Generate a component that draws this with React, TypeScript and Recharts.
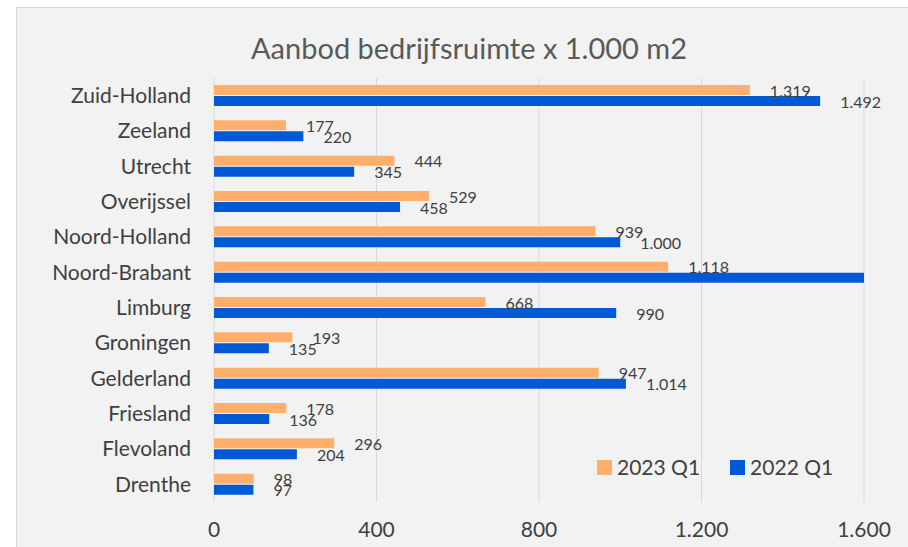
import React from 'react'
import {
  BarChart,
  Bar,
  XAxis,
  YAxis,
  CartesianGrid,
  LabelList,
} from 'recharts'

const PROVINCES = [
  'Zuid-Holland',
  'Zeeland',
  'Utrecht',
  'Overijssel',
  'Noord-Holland',
  'Noord-Brabant',
  'Limburg',
  'Groningen',
  'Gelderland',
  'Friesland',
  'Flevoland',
  'Drenthe',
]

const Q1_2023 = [1319, 177, 444, 529, 939, 1118, 668, 193, 947, 178, 296, 98]
const Q1_2022 = [1492, 220, 345, 458, 1000, 1600, 990, 135, 1014, 136, 204, 97]

const X_TICKS = [0, 400, 800, 1200, 1600]

const SERIES = [
  { key: 'q2023', label: '2023 Q1', color: '#ffae6c' },
  { key: 'q2022', label: '2022 Q1', color: '#005ad5' },
]

const TEXT = '#404040'
const FONT = 'Lato, "Open Sans", sans-serif'

// Dutch thousands separator: 1492 -> 1.492
const nl = (v: number) => String(v).replace(/\B(?=(\d{3})+(?!\d))/g, '.')

const chartData = PROVINCES.map((name, i) => ({
  name,
  q2023: Q1_2023[i],
  q2022: Q1_2022[i],
}))

const maxX = X_TICKS[X_TICKS.length - 1]

// labels sit 20px past the bar end, centred on the bar; ones that run off the axis are dropped
const renderLabel = (props: any) => {
  const { x, y, width, height, value } = props
  if (value >= maxX) return null
  return (
    <text
      x={x + width + 20}
      y={y + height / 2}
      dominantBaseline="central"
      fontSize={16}
      fontFamily={FONT}
      fill={TEXT}
    >
      {nl(value)}
    </text>
  )
}

export default function App() {
  return (
    <div
      style={{
        position: 'absolute',
        left: 0,
        top: 0,
        width: 908,
        height: 547,
        background: '#ffffff',
        overflow: 'hidden',
      }}
    >
      {/* chart frame */}
      <div
        style={{
          position: 'absolute',
          left: 16,
          top: 7,
          width: 920,
          height: 580,
          background: '#f2f2f2',
          border: '1px solid #d9d9d9',
        }}
      />
      <div
        style={{
          position: 'absolute',
          left: 0,
          top: 30,
          width: 938,
          textAlign: 'center',
          fontFamily: FONT,
          fontSize: 29,
          color: '#595959',
          lineHeight: '36px',
        }}
      >
        Aanbod bedrijfsruimte x 1.000 m2
      </div>
      <div style={{ position: 'absolute', left: 0, top: 0 }}>
        <BarChart
          width={908}
          height={547}
          data={chartData}
          layout="vertical"
          margin={{ top: 78, right: 44, bottom: 0, left: 0 }}
          barSize={10}
          barGap={1}
        >
          <CartesianGrid horizontal={false} stroke="#d9d9d9" strokeWidth={1} />
          <XAxis
            type="number"
            domain={[0, maxX]}
            ticks={X_TICKS}
            allowDataOverflow
            tickFormatter={nl}
            axisLine={false}
            tickLine={false}
            tickMargin={14}
            height={45}
            tick={{ fontSize: 21, fill: TEXT, fontFamily: FONT }}
          />
          <YAxis
            type="category"
            dataKey="name"
            width={214}
            axisLine={false}
            tickLine={false}
            tickMargin={17}
            interval={0}
            tick={{ fontSize: 21, fill: TEXT, fontFamily: FONT }}
          />
          {SERIES.map((s) => (
            <Bar
              key={s.key}
              dataKey={s.key}
              name={s.label}
              fill={s.color}
              isAnimationActive={false}
            >
              <LabelList dataKey={s.key} content={renderLabel} />
            </Bar>
          ))}
        </BarChart>
      </div>
      {/* legend */}
      <div
        style={{
          position: 'absolute',
          left: 597,
          top: 453,
          display: 'flex',
          alignItems: 'center',
          fontFamily: FONT,
        }}
      >
        {SERIES.map((s) => (
          <div
            key={s.key}
            style={{ display: 'flex', alignItems: 'center', marginRight: 30 }}
          >
            <span
              style={{
                display: 'inline-block',
                width: 15,
                height: 15,
                background: s.color,
                marginRight: 5,
              }}
            />
            <span style={{ fontSize: 21, color: TEXT, lineHeight: '28px' }}>
              {s.label}
            </span>
          </div>
        ))}
      </div>
    </div>
  )
}
